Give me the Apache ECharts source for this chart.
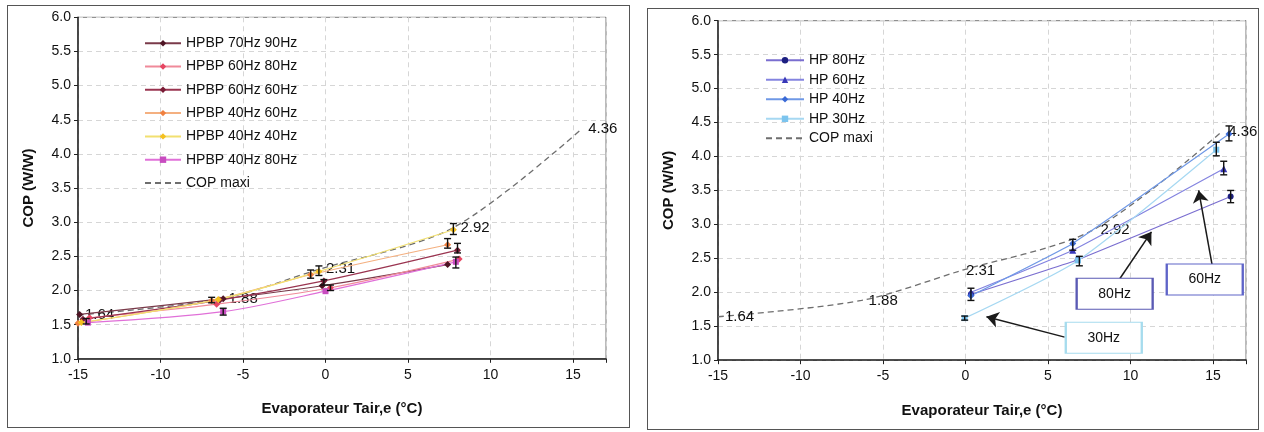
<!DOCTYPE html>
<html>
<head>
<meta charset="utf-8">
<script src="https://cdn.jsdelivr.net/npm/echarts@6/dist/echarts.min.js"></script>
<style>
html,body{margin:0;padding:0;background:#fff;width:1264px;height:432px;overflow:hidden;}
.panel{position:absolute;border:1px solid #555;background:#fff;}
#left{left:7px;top:5px;width:621px;height:421px;}
#right{left:647px;top:8px;width:610px;height:420px;}
</style>
</head>
<body>
<div id="left" class="panel"></div>
<div id="right" class="panel"></div>
<script>
// ---------- Data: left chart (HPBP) ----------
const xTicks = [-15, -10, -5, 0, 5, 10, 15];
const hpbp70_90 = [[-14.9, 1.65], [-6.2, 1.88], [-0.2, 2.07], [7.4, 2.38]];
const hpbp60_80 = [[-14.3, 1.60], [-6.6, 1.80], [0.3, 2.04], [8.1, 2.46]];
const hpbp60_60 = [[-14.7, 1.58], [-6.4, 1.86], [-0.1, 2.14], [8.0, 2.59]];
const hpbp40_60 = [[-15.0, 1.52], [-6.9, 1.85], [-0.9, 2.23], [7.4, 2.67]];
const hpbp40_40 = [[-14.8, 1.53], [-6.5, 1.87], [-0.4, 2.28], [7.75, 2.89]];
const hpbp40_80 = [[-14.4, 1.53], [-6.2, 1.69], [0.0, 1.99], [7.9, 2.42]];
const copMaxX = [-15, -6.3, -0.4, 7.75, 15.5];
const copMaxY = [1.64, 1.88, 2.31, 2.92, 4.36];
// error bars: [x, y, halfRange]
const errLeft = [
  [-14.5, 1.55, 0.04], [-6.9, 1.86, 0.04], [-6.2, 1.69, 0.05],
  [-0.9, 2.24, 0.06], [-0.4, 2.29, 0.07], [-0.1, 2.12, 0.04], [0.3, 2.04, 0.04],
  [7.75, 2.90, 0.08], [7.4, 2.69, 0.07], [8.0, 2.62, 0.07], [7.9, 2.41, 0.08]
];

// ---------- Data: right chart (HP) ----------
const hp80 = [[0.33, 1.97], [6.8, 2.48], [16.07, 3.41]];
const hp60 = [[0.33, 2.00], [6.5, 2.62], [15.65, 3.82]];
const hp40 = [[0.33, 1.95], [6.5, 2.72], [15.97, 4.33]];
const hp30 = [[-0.05, 1.62], [6.82, 2.47], [15.2, 4.10]];
const errRight = [
  [0.33, 1.97, 0.09], [-0.05, 1.62, 0.03], [6.5, 2.70, 0.08], [6.9, 2.46, 0.07],
  [15.97, 4.34, 0.11], [15.2, 4.11, 0.10], [15.65, 3.83, 0.10], [16.07, 3.41, 0.09]
];
// annotation boxes & arrows (data coordinates)
const boxLabels = ['80Hz', '60Hz', '30Hz'];
const boxPos = [[9.04, 1.98], [14.5, 2.19], [8.38, 1.33]];
const boxColors = ['#5a5ab4', '#5e64c8', '#a6dcee'];
const arrowFrom = [[9.35, 2.20], [14.94, 2.41], [6.01, 1.34]];
const arrowTo = [[11.27, 2.89], [14.13, 3.50], [1.27, 1.64]];

const FONT = 'Liberation Sans, Arial, sans-serif';
const copMax = copMaxX.map((x, i) => [x, copMaxY[i]]);

function errSeries(data) {
  return {
    type: 'custom', data: data, z: 5, silent: true,
    encode: { x: 0, y: 1 },
    renderItem: function (params, api) {
      const x = api.value(0), y = api.value(1), e = api.value(2);
      const t = api.coord([x, y + e]), b = api.coord([x, y - e]);
      const w = 3.5, st = { stroke: '#111', lineWidth: 1.4 };
      return { type: 'group', children: [
        { type: 'line', shape: { x1: t[0], y1: t[1], x2: b[0], y2: b[1] }, style: st },
        { type: 'line', shape: { x1: t[0] - w, y1: t[1], x2: t[0] + w, y2: t[1] }, style: st },
        { type: 'line', shape: { x1: b[0] - w, y1: b[1], x2: b[0] + w, y2: b[1] }, style: st }
      ]};
    }
  };
}

function lineSeries(name, data, lineColor, markColor, symbol, size, smooth) {
  return {
    name: name, type: 'line', data: data, smooth: smooth,
    symbol: symbol, symbolSize: size, showSymbol: true,
    lineStyle: { color: lineColor, width: 1.2 },
    itemStyle: { color: markColor },
    emphasis: { disabled: true }, z: 3
  };
}

function copSeries(smooth) {
  return {
    name: 'COP maxi', type: 'line', data: copMax, smooth: smooth,
    symbol: 'circle', symbolSize: 2, showSymbol: true,
    lineStyle: { color: '#6e6e6e', width: 1.3, type: [6, 4] },
    itemStyle: { color: 'rgba(0,0,0,0)' },
    label: { show: true, position: 'right', distance: 6, fontSize: 15, fontFamily: FONT, color: '#111',
      formatter: p => p.value[1].toFixed(2) },
    emphasis: { disabled: true }, z: 2
  };
}

function axes(grid) {
  return {
    grid: grid,
    xAxis: {
      type: 'value', min: -15, max: 17, interval: 5,
      name: 'Evaporateur Tair,e (°C)', nameLocation: 'middle', nameGap: 43,
      nameTextStyle: { fontSize: 15, fontWeight: 'bold', fontFamily: FONT, color: '#111' },
      axisLine: { onZero: false, lineStyle: { color: '#222', width: 1.5 } },
      axisTick: { show: true, length: 4, lineStyle: { color: '#222' } },
      axisLabel: { fontSize: 14, fontFamily: FONT, color: '#111', margin: 9,
        formatter: v => (xTicks.indexOf(v) >= 0 ? String(v) : '') },
      splitLine: { show: true, lineStyle: { color: '#d6d6d6', type: [5, 4] } }
    },
    yAxis: {
      type: 'value', min: 1, max: 6, interval: 0.5,
      name: 'COP (W/W)', nameLocation: 'middle', nameGap: 42, nameRotate: 90,
      nameTextStyle: { fontSize: 15, fontWeight: 'bold', fontFamily: FONT, color: '#111' },
      axisLine: { show: true, onZero: false, lineStyle: { color: '#222', width: 1.5 } },
      axisTick: { show: true, length: 4, lineStyle: { color: '#222' } },
      axisLabel: { fontSize: 14, fontFamily: FONT, color: '#111', margin: 7, formatter: v => v.toFixed(1) },
      splitLine: { show: true, lineStyle: { color: '#d6d6d6', type: [5, 4] } }
    }
  };
}

// ---------- Left chart ----------
const leftNames = ['HPBP 70Hz 90Hz', 'HPBP 60Hz 80Hz', 'HPBP 60Hz 60Hz', 'HPBP 40Hz 60Hz', 'HPBP 40Hz 40Hz', 'HPBP 40Hz 80Hz', 'COP maxi'];
const lc = echarts.init(document.getElementById('left'), null, { renderer: 'canvas' });
const la = axes({ left: 70, top: 11.3, width: 528, height: 341.5, show: true, borderColor: '#777', borderWidth: 1 });
lc.setOption({
  animation: false,
  textStyle: { fontFamily: FONT },
  grid: la.grid, xAxis: la.xAxis, yAxis: la.yAxis,
  legend: {
    data: leftNames, orient: 'vertical', left: 131, top: 25.2,
    itemWidth: 36, itemHeight: 8, itemGap: 9.3,
    textStyle: { fontSize: 14, fontFamily: FONT, color: '#111' }
  },
  series: [
    lineSeries(leftNames[0], hpbp70_90, '#7a3a4a', '#4e1424', 'diamond', 7, 0.3),
    lineSeries(leftNames[1], hpbp60_80, '#f08a9a', '#e64662', 'diamond', 7, 0.3),
    lineSeries(leftNames[2], hpbp60_60, '#9a3450', '#7a1c36', 'diamond', 7, 0.3),
    lineSeries(leftNames[3], hpbp40_60, '#f4b080', '#f08040', 'diamond', 7, 0.3),
    lineSeries(leftNames[4], hpbp40_40, '#f2e070', '#f4c020', 'diamond', 7, 0.3),
    lineSeries(leftNames[5], hpbp40_80, '#e070d8', '#c84cc0', 'rect', 6, 0.3),
    copSeries(0.3),
    errSeries(errLeft)
  ]
});

// ---------- Right chart ----------
const rightNames = ['HP 80Hz', 'HP 60Hz', 'HP 40Hz', 'HP 30Hz', 'COP maxi'];
const rc = echarts.init(document.getElementById('right'), null, { renderer: 'canvas' });
const ra = axes({ left: 70, top: 11.7, width: 528, height: 339.5, show: true, borderColor: '#777', borderWidth: 1 });
rc.setOption({
  animation: false,
  textStyle: { fontFamily: FONT },
  grid: ra.grid, xAxis: ra.xAxis, yAxis: ra.yAxis,
  legend: {
    data: rightNames, orient: 'vertical', left: 112, top: 39.3,
    itemWidth: 38, itemHeight: 8, itemGap: 5.5,
    textStyle: { fontSize: 14, fontFamily: FONT, color: '#111' }
  },
  series: [
    lineSeries(rightNames[0], hp80, '#7a6ed0', '#1c1f80', 'circle', 6, 0.1),
    lineSeries(rightNames[1], hp60, '#8484e0', '#3838b8', 'triangle', 7, 0.1),
    lineSeries(rightNames[2], hp40, '#6f98e6', '#3a6ad6', 'diamond', 7, 0.1),
    lineSeries(rightNames[3], hp30, '#a6d8f2', '#7cc4ee', 'rect', 6, 0.2),
    copSeries(0.3),
    errSeries(errRight),
    {
      name: 'annotations', type: 'line', data: [], silent: true, z: 10,
      markLine: {
        silent: true, animation: false,
        symbol: ['none', 'arrow'], symbolSize: 12,
        lineStyle: { color: '#1a1a1a', width: 1.5, type: 'solid' },
        itemStyle: { color: '#1a1a1a' },
        label: { show: false }, emphasis: { disabled: true },
        data: arrowFrom.map((f, i) => [{ coord: f }, { coord: arrowTo[i] }])
      },
      markPoint: {
        silent: true, animation: false,
        data: boxLabels.map((t, i) => ({
          coord: boxPos[i], symbol: 'rect', symbolSize: [76, 31],
          itemStyle: { color: '#fff', borderColor: boxColors[i], borderWidth: 1.5 },
          label: { show: true, position: 'inside', formatter: t, fontSize: 14, fontFamily: FONT, color: '#111' }
        }))
      }
    }
  ]
});
</script>
</body>
</html>
